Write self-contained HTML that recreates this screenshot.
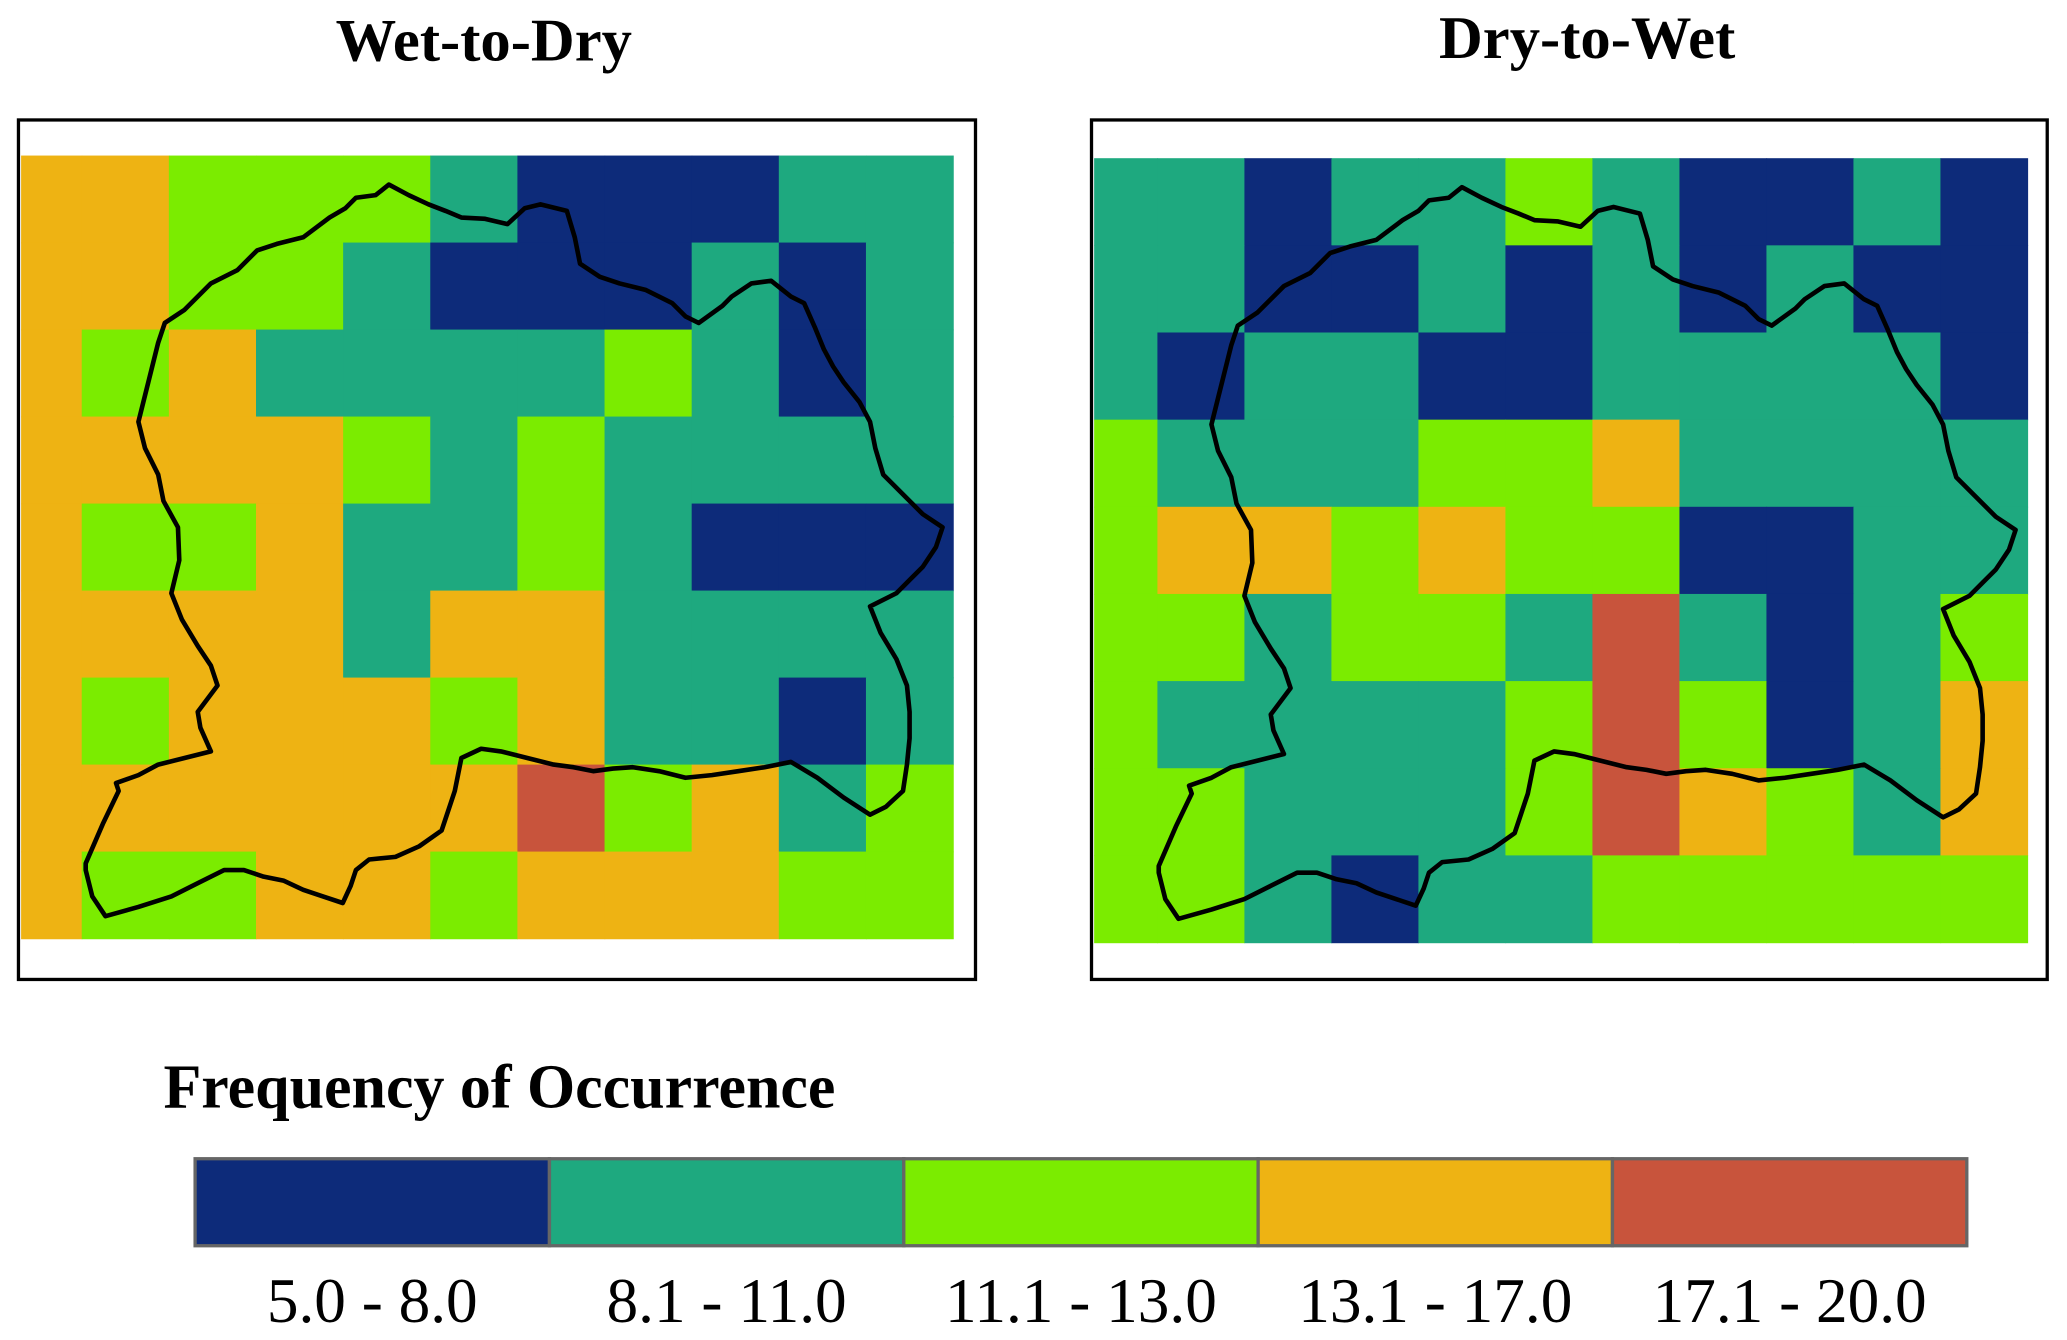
<!DOCTYPE html>
<html><head><meta charset="utf-8"><style>
html,body{margin:0;padding:0;background:#fff;}
svg{display:block;font-family:"Liberation Serif",serif;}
</style></head><body>
<svg id="chart" width="2067" height="1340" viewBox="0 0 1568 1016.5" xmlns="http://www.w3.org/2000/svg">
<text x="367" y="46" text-anchor="middle" font-size="46" font-weight="bold">Wet-to-Dry</text>
<text x="1204" y="44" text-anchor="middle" font-size="46" font-weight="bold">Dry-to-Wet</text>
<g id="leftGrid"></g>
<g id="rightGrid"></g>
<defs>
<path id="basin" fill="none" stroke="#000" stroke-width="3.5" stroke-linejoin="round" d="M65,655 L78,625 L90,600 L88,594 L105,588 L120,580 L140,575 L160,570 L152,552 L150,540 L165,520 L160,505 L150,490 L138,470 L130,450 L136,425 L135,400 L124,380 L120,360 L110,340 L105,320 L110,300 L115,280 L120,260 L125,245 L140,235 L160,215 L180,205 L195,190 L210,185 L230,180 L250,165 L262,158 L270,150 L285,148 L295,140 L310,148 L325,155 L338,160 L350,165 L368,166 L385,170 L398,158 L410,155 L430,160 L436,180 L440,200 L455,210 L470,215 L490,220 L510,230 L520,240 L530,245 L548,232 L555,225 L570,215 L585,213 L600,225 L610,230 L618,248 L625,265 L632,278 L640,290 L652,305 L660,320 L664,340 L670,360 L685,375 L700,390 L715,400 L710,415 L700,430 L690,440 L680,450 L660,460 L668,480 L680,500 L688,520 L690,540 L690,560 L688,580 L685,600 L672,612 L660,618 L640,605 L620,590 L600,578 L580,582 L560,585 L540,588 L520,590 L500,585 L480,582 L465,583 L450,585 L435,582 L420,580 L400,575 L380,570 L365,568 L350,575 L347,590 L345,600 L340,615 L335,630 L318,642 L300,650 L280,652 L270,660 L266,672 L260,685 L245,680 L230,675 L215,668 L200,665 L185,660 L170,660 L150,670 L130,680 L105,688 L80,695 L70,680 L65,660 Z"/>
</defs>
<use href="#basin"/>
<use href="#basin" transform="translate(814,2)"/>
<rect x="14" y="91" width="726" height="652" fill="none" stroke="#000" stroke-width="2.5"/>
<rect x="828" y="91" width="725" height="652" fill="none" stroke="#000" stroke-width="2.5"/>
<text x="124" y="840" font-size="47" font-weight="bold">Frequency of Occurrence</text>
<g id="legend"></g>
</svg>
<script>
const classLabels = ["5.0 - 8.0","8.1 - 11.0","11.1 - 13.0","13.1 - 17.0","17.1 - 20.0"];
const classColors = ["#0d2b7a","#1ea97f","#7bec00","#eeb313","#c8543c"];
// class index per cell, rows top to bottom, 11 columns (first column is partial)
const wetToDry = [
"OOGGGTBBBTT","OOGGTBBBTBT","OGOTTTTGTBT","OOOOGTGTTTT","OGGOTTGTBBB",
"OOOOTOOTTTT","OGOOOGOTTBT","OOOOOORGOTG","OGGOOGOOOGG"];
const dryToWet = [
"TTBTTGTBBTB","TTBBTBTBTBB","TBTTBBTTTTB","GTTTGGOTTTT","GOOGOGGBBTT",
"GGTGGTRTBTG","GTTTTGRGBTO","GGTTTGROGTO","GGTBTTGGGGG"];
const codes = {B:0,T:1,G:2,O:3,R:4};
const NS="http://www.w3.org/2000/svg";
function drawGrid(gid, data, x0, xFirst, x1, y0, y1, name){
  const g=document.getElementById(gid);
  const rows=data.length, cols=data[0].length;
  const cw=(x1-xFirst)/(cols-1), rh=(y1-y0)/rows;
  for(let r=0;r<rows;r++)for(let c=0;c<cols;c++){
    const rect=document.createElementNS(NS,"rect");
    const xa = c===0?x0:xFirst+(c-1)*cw, xb = c===0?xFirst:xFirst+c*cw;
    rect.setAttribute("x",xa);rect.setAttribute("y",y0+r*rh);
    rect.setAttribute("width",xb-xa+0.5);rect.setAttribute("height",rh+0.5);
    rect.setAttribute("fill",classColors[codes[data[r][c]]]);
    
    
    g.appendChild(rect);
  }
}
drawGrid("leftGrid",wetToDry,16,62,723,118,712,"wet-to-dry");
drawGrid("rightGrid",dryToWet,830,878,1538,120,715,"dry-to-wet");
const lg=document.getElementById("legend");
const lx0=148,lx1=1492,bw=(lx1-lx0)/classLabels.length;
classLabels.forEach((lab,i)=>{
  const r=document.createElementNS(NS,"rect");
  r.setAttribute("x",lx0+i*bw);r.setAttribute("y",879);r.setAttribute("width",bw);r.setAttribute("height",66);
  r.setAttribute("fill",classColors[i]);r.setAttribute("stroke","#666");r.setAttribute("stroke-width","2.5");
  
  
  lg.appendChild(r);
  const t=document.createElementNS(NS,"text");
  t.setAttribute("x",lx0+i*bw+bw/2);t.setAttribute("y",1003);t.setAttribute("text-anchor","middle");t.setAttribute("font-size","48");
  t.textContent=lab;
  
  
  lg.appendChild(t);
});
</script>
</body></html>
